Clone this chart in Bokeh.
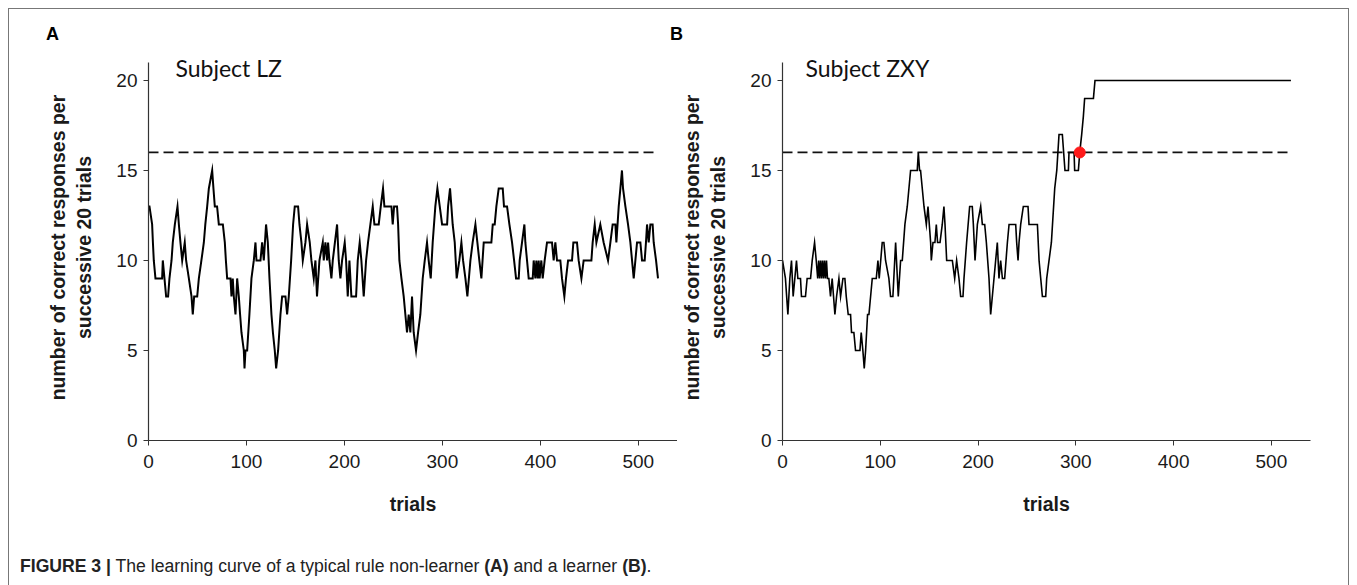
from bokeh.plotting import figure
from bokeh.models import Label, Div
from bokeh.layouts import row, column
from bokeh.embed import file_html
from bokeh.resources import INLINE

# ---------------- data ----------------
trials_a = [0, 1, 3.7, 4.5, 5.4, 7.1, 13.9, 14.6, 16.3, 18, 20, 21.4, 23.5, 24.8, 26.9, 29.6, 31, 32.6, 34.4, 37,
            38.4, 41.2, 43.9, 45.2, 46.6, 49.7, 51.4, 54, 56.5, 58, 59.9, 61.6, 65, 66.3, 67.7, 70, 71.8, 75.9, 77.9,
            79, 80.3, 83.7, 84.7, 86, 87.1, 88.8, 90.5, 92.2, 93.5, 94.9, 97.3, 98, 99, 100.7, 103, 105.1, 107.5,
            109.2, 110.2, 114.3, 116, 117.7, 120, 121.8, 123.5, 125.5, 127, 128.9, 130.3, 132.3, 134.7, 136.4, 139.8,
            141.5, 143.2, 145.6, 147.6, 149.3, 152.7, 154.1, 156.1, 157.5, 160.2, 161.9, 164.6, 166.3, 168.7, 170.4,
            172, 174.5, 177.9, 178.9, 180.6, 182.3, 183.3, 184.7, 186.7, 188.1, 192.5, 194.2, 195.9, 197.6, 200.3,
            201.7, 203.4, 205.1, 207.1, 211.9, 213.6, 215.6, 217.3, 219.7, 222.1, 224.1, 226.5, 228.9, 230.6, 235,
            237.1, 239.4, 240.8, 248, 249.3, 250.7, 253.7, 254.8, 256.1, 258.2, 260.5, 262.2, 263.9, 265.6, 267.3,
            269, 270.7, 273.1, 275.2, 277.5, 279.9, 282, 284.3, 286, 288.1, 290.1, 292.8, 294.9, 297.3, 299.7, 304.8,
            305.8, 307.8, 309.2, 310.5, 312.6, 314.6, 317.3, 319.4, 321.1, 323.5, 325.5, 328.6, 330.9, 333.7, 335.7,
            337.7, 339.8, 342.2, 350, 351.4, 353.4, 355.1, 357.5, 361.6, 362.9, 366, 368.4, 371.1, 373.2, 375.2,
            377.9, 378.9, 381.3, 383.7, 384.7, 386.4, 388.1, 392.2, 393.2, 394.9, 395.9, 397.3, 398.3, 399.3, 401,
            402.4, 404.4, 406.8, 411.9, 413.6, 415.3, 417, 420.4, 422.1, 424.5, 426.2, 428.3, 432.3, 433.7, 437.4,
            439.1, 441.9, 444.2, 452.1, 453.4, 455.5, 457.2, 461.2, 464.6, 469.1, 471.5, 473.8, 476.6, 477.6, 480,
            481.7, 483.3, 484.4, 486.8, 489.5, 491.9, 495.3, 497, 498.7, 502.1, 503.8, 506.5, 507.8, 508.9, 510.6,
            512.3, 514.6, 515.7, 518.1, 520.1]
count_a = [13, 13, 12, 11, 10, 9, 9, 10, 9, 8, 8, 9, 10, 11, 12, 13, 12, 11, 10, 11,
           10, 9, 8, 7, 8, 8, 9, 10, 11, 12, 13, 14, 15, 14, 13, 13, 12, 12, 11,
           10, 9, 9, 8, 9, 8, 7, 9, 8, 7, 6, 5, 4, 5, 5, 7, 9, 10,
           11, 10, 10, 11, 10, 12, 11, 9, 7, 6, 5, 4, 5, 7, 8, 8,
           7, 8, 10, 12, 13, 13, 12, 11, 10, 11, 12, 11, 10, 9, 10,
           8, 10, 11, 10, 11, 10, 11, 10, 9, 10, 12, 10, 9, 10, 11,
           10, 8, 10, 8, 8, 10, 11, 10, 8, 10, 11, 12, 13, 12, 12,
           13, 14, 13, 13, 12, 13, 13, 12, 10, 9, 8, 7, 6, 7, 6,
           8, 6, 5, 6, 7, 9, 10, 11, 10, 9, 11, 13, 14, 13, 12, 12,
           13, 14, 13, 12, 11, 9, 10, 11, 10, 9, 8, 10, 11, 12, 11,
           10, 9, 11, 11, 12, 12, 13, 14, 14, 13, 13, 12, 11, 10, 9,
           9, 10, 11, 12, 11, 10, 9, 9, 10, 9, 10, 9, 10, 9, 10,
           9, 10, 11, 11, 10, 11, 10, 10, 9, 8, 9, 10, 10, 11, 11,
           10, 9, 10, 10, 11, 12, 11, 12, 11, 10, 11, 12, 12, 11, 13,
           14, 15, 14, 13, 12, 11, 9, 10, 11, 11, 10, 10, 11, 12, 11,
           12, 12, 11, 10, 9]

trials_b = [0, 3, 5.5, 7.5, 9.2, 10.9, 12.6, 14.3, 15.7, 18.4, 19.4, 23.5, 25.2, 28.7, 30.4, 32.8, 34.5, 36, 37, 38,
            39, 40, 41, 42, 43, 44, 45, 46, 47.4, 49.1, 50.8, 52.2, 53.6, 55.3, 57.7, 59.4, 61.8, 63.8, 65.2, 67.2,
            69.6, 70.6, 73, 74.7, 79.2, 80.5, 82.2, 83.6, 85, 87, 88.4, 91.8, 95.9, 97.6, 98.9, 102, 103.7, 105.4,
            108.8, 110.5, 112.9, 115.7, 118.4, 120.8, 122.5, 125.2, 127.6, 131, 137.8, 138.9, 140.2, 141.2, 144.7,
            147.1, 148.8, 151.5, 152.2, 153.9, 155.9, 157.3, 158.6, 161.1, 163.4, 165.1, 166.2, 167.9, 173.7, 176.1,
            178.1, 180.5, 182.2, 184.6, 185.6, 188.3, 191.4, 194.1, 195.2, 196.9, 199.3, 202.7, 204.4, 206.8, 208.5,
            211.2, 212.9, 216.3, 219.7, 221.4, 223.1, 224.9, 227.2, 230, 231.7, 238.5, 239.5, 240.9, 241.9, 243.6,
            246.3, 251.1, 252.1, 260.7, 262.4, 264.1, 265.8, 269.2, 270.2, 272.6, 275, 278.4, 280.5, 282.8, 286.2,
            288.9, 292.4, 293, 298.2, 298.8, 302.6, 304, 306, 307.7, 309, 318, 319.6, 520]
count_b = [10, 9, 7, 9, 10, 8, 9, 10, 9, 9, 8, 8, 9, 9, 10, 11, 10, 9, 10, 9,
           10, 9, 10, 9, 10, 9, 10, 9, 9, 8, 9, 8, 7, 8, 9, 8, 9, 9, 8, 7,
           7, 6, 6, 5, 5, 6, 5, 4, 5, 7, 7, 9, 9, 10, 9, 11, 11, 10,
           9, 8, 8, 11, 8, 10, 10, 12, 13, 15, 15, 16, 15, 15, 13,
           12, 13, 11, 10, 11, 11, 12, 11, 11, 12, 13, 12, 10, 10, 9,
           10, 9, 8, 8, 9, 11, 13, 13, 12, 10, 12, 13, 12, 12, 11,
           9, 7, 9, 11, 9, 10, 9, 9, 11, 12, 12, 11, 10, 11, 12,
           13, 13, 12, 12, 10, 9, 8, 8, 9, 10, 11, 14, 15, 17, 17,
           15, 15, 16, 16, 15, 15, 16, 17, 18, 19, 19, 20, 20]

criterion = 16
criterion_trial_b = 304
x_ticks = [0, 100, 200, 300, 400, 500]
y_ticks = [0, 5, 10, 15, 20]
x_axis_max = 540
y_axis_max = 21

FONT = "Liberation Sans"
INK = "#1a1a1a"


def make_panel(width, left, right, trials, counts, subject, title_dx, lw):
    p = figure(width=width, height=480, x_range=(0, x_axis_max), y_range=(0, 21.44), title=None,
               min_border_left=left, min_border_right=right, min_border_top=0, min_border_bottom=94,
               output_backend="svg", toolbar_location=None, tools="")
    p.xgrid.visible = False
    p.ygrid.visible = False
    p.outline_line_color = None
    p.background_fill_color = "white"
    p.border_fill_color = "white"
    for ax in (p.xaxis[0], p.yaxis[0]):
        ax.axis_line_color = "#333333"
        ax.axis_line_width = 1.2
        ax.major_tick_line_color = "#333333"
        ax.major_tick_out = 5
        ax.major_tick_in = 0
        ax.minor_tick_out = 0
        ax.minor_tick_in = 0
        ax.major_label_text_font = FONT
        ax.major_label_text_font_size = "19px"
        ax.major_label_text_color = INK
        ax.axis_label_text_font = FONT
        ax.axis_label_text_font_style = "bold"
        ax.axis_label_text_color = INK
    p.xaxis.ticker = x_ticks
    p.yaxis.ticker = y_ticks
    p.yaxis.bounds = (0, y_axis_max)
    p.xaxis.major_label_standoff = 9
    p.yaxis.major_label_standoff = 6
    p.xaxis.axis_label = "trials"
    p.xaxis.axis_label_text_font_size = "19.5px"
    p.xaxis.axis_label_standoff = 22
    p.yaxis.axis_label = "number of correct responses per\nsuccessive 20 trials"
    p.yaxis.axis_label_text_font_size = "19.5px"
    p.yaxis.axis_label_standoff = 18

    # criterion line
    p.line([trials[0], trials[-1]], [criterion, criterion], line_color="#111111",
           line_width=1.8, line_dash="10 5")
    # learning curve
    p.line(trials, counts, line_color="#000000", line_width=lw, line_join="miter")

    p.add_layout(Label(x=title_dx, y=373, x_units="screen", y_units="screen", text=subject,
                       text_font="Lato", text_font_size="23px",
                       text_baseline="middle", text_align="left", text_color="#111111"))
    return p


pA = make_panel(668, 139, 0, trials_a, count_a, "Subject LZ", 27, 2.0)
pB = make_panel(671, 105, 38, trials_b, count_b, "Subject ZXY", 23, 1.6)
pB.scatter([criterion_trial_b], [criterion], size=11, color="#ff1a1a", line_color="#ff1a1a")

letters = Div(
    text=('<div style="position:relative;width:1339px;height:45px;font-family:\'Liberation Sans\',sans-serif;'
          'font-weight:bold;font-size:18px;line-height:18px;color:#000;">'
          '<span style="position:absolute;left:37px;top:16px;">A</span>'
          '<span style="position:absolute;left:661px;top:16px;">B</span></div>'),
    width=1339, height=45, margin=0)

caption = Div(
    text='<b>FIGURE 3 |</b> The learning curve of a typical rule non-learner <b>(A)</b> and a learner <b>(B)</b>.',
    width=1339, height=51, margin=0,
    styles={"font-family": "'Liberation Sans', sans-serif", "font-size": "17.6px",
            "color": "#222222", "padding-left": "11px", "padding-top": "20px", "box-sizing": "border-box"})

layout = column(letters, row(pA, pB), caption, margin=(8, 0, 0, 8),
                styles={"border-left": "1.5px solid #777777", "border-top": "1.5px solid #777777",
                        "border-right": "1.5px solid #777777", "background": "white"})

open("out.html", "w").write(file_html(layout, INLINE))
